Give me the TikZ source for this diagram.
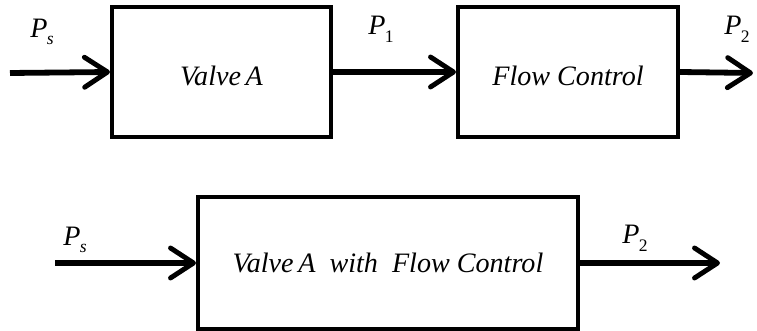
\documentclass[tikz,border=0pt]{standalone}
\usepackage{fontspec}
\setmainfont{Liberation Serif}
\usetikzlibrary{arrows.meta}
\newcommand{\pvar}[1]{\textit{P}\kern-0.02em\raisebox{-0.6ex}{\fontsize{10}{10}\selectfont #1}}
\tikzset{
  blk/.style  = {draw, line width=2.3pt, minimum height=26mm,
                 font=\fontsize{16}{19}\selectfont\itshape},
  topblk/.style = {blk, text height=5.6mm, text depth=0pt},
  lbl/.style  = {font=\fontsize{16}{19}\selectfont, inner sep=0pt},
  flow/.style = {line width=3.3pt,
                 -{Straight Barb[length=4.6mm, width=6mm, line width=2.8pt, round]}},
}

\begin{document}
\begin{tikzpicture}
\useasboundingbox (0,0) rectangle (15.14,-6.62);

%% ─── Top: valve and flow control in series ──────────────────────
\node[topblk, minimum width=43.8mm] (valve) at (4.43,-1.44) {Valve\,A};
\node[topblk, minimum width=44mm]   (fc)    at (11.36,-1.44) {Flow Control};

\coordinate (inT)  at (0.2,-1.46);
\coordinate (outT) at (15.06,-1.46);

\draw[flow] (inT) -- (valve.west);
\draw[flow] (valve.east) -- (fc.west);
\draw[flow] (fc.east) -- (outT);

\node[lbl] (psT) at (0.84,-0.64)  {\pvar{\textit{s}}};
\node[lbl] (p1)  at (7.62,-0.58)  {\pvar{1}};
\node[lbl] (p2T) at (14.74,-0.58) {\pvar{2}};

%% ─── Bottom: combined block ─────────────────────────────────────
\node[blk, minimum width=76mm, minimum height=26.4mm] (comb) at (7.76,-5.26)
  {Valve\,A\ \ with\ \ Flow Control};

\coordinate (inB)  at (1.1,-5.26);
\coordinate (outB) at (14.4,-5.26);

\draw[flow] (inB) -- (comb.west);
\draw[flow] (comb.east) -- (outB);

\node[lbl] (psB) at (1.5,-4.8)   {\pvar{\textit{s}}};
\node[lbl] (p2B) at (12.7,-4.76) {\pvar{2}};

\end{tikzpicture}
\end{document}
